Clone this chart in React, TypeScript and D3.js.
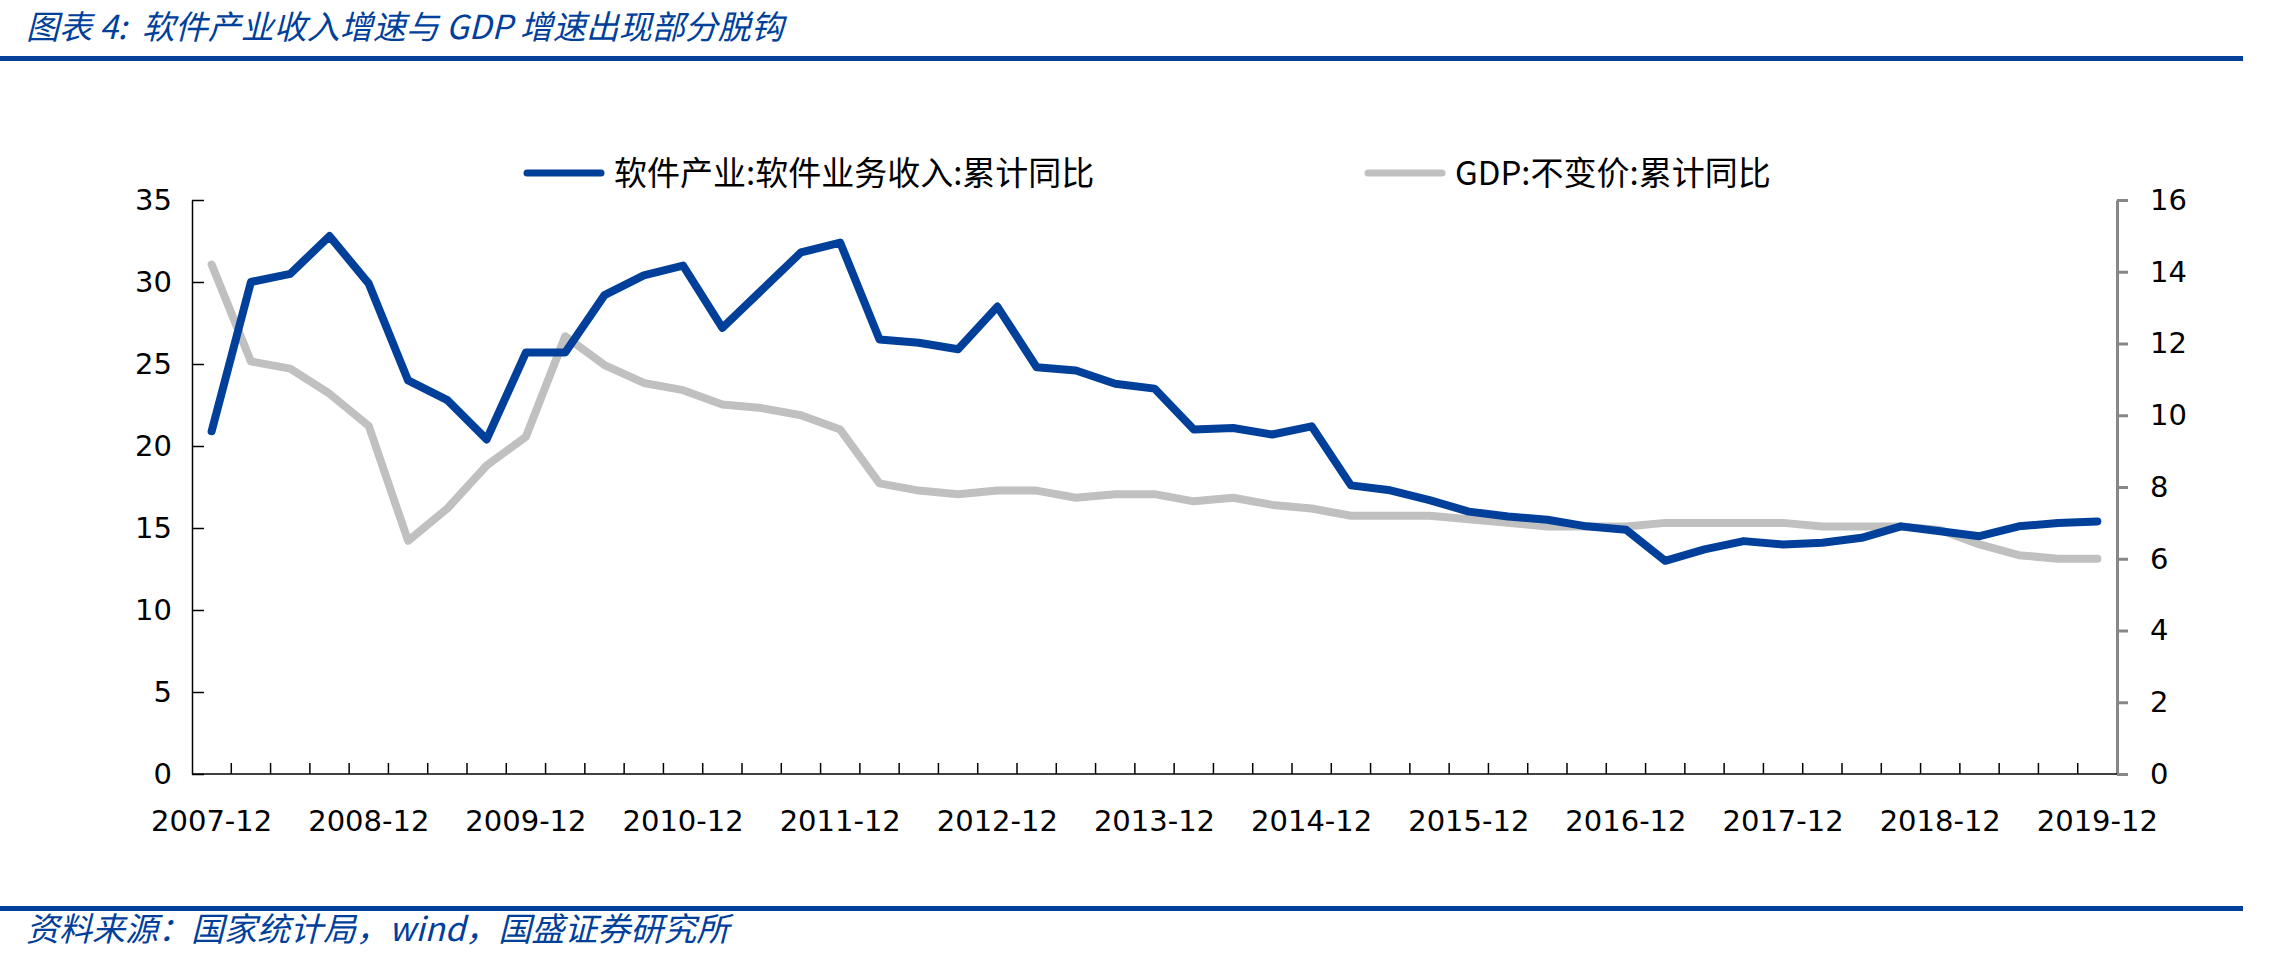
import React, { useEffect, useRef } from "react";
import * as d3 from "d3";

// quarterly, 2007-12 .. 2019-12
const categories = [
    "2007-12",
    "2008-03", "2008-06", "2008-09", "2008-12",
    "2009-03", "2009-06", "2009-09", "2009-12",
    "2010-03", "2010-06", "2010-09", "2010-12",
    "2011-03", "2011-06", "2011-09", "2011-12",
    "2012-03", "2012-06", "2012-09", "2012-12",
    "2013-03", "2013-06", "2013-09", "2013-12",
    "2014-03", "2014-06", "2014-09", "2014-12",
    "2015-03", "2015-06", "2015-09", "2015-12",
    "2016-03", "2016-06", "2016-09", "2016-12",
    "2017-03", "2017-06", "2017-09", "2017-12",
    "2018-03", "2018-06", "2018-09", "2018-12",
    "2019-03", "2019-06", "2019-09", "2019-12",
];

// 软件产业:软件业务收入:累计同比 (left axis)
const softwareRevenue = [
    20.9,
    30.0, 30.5, 32.8, 29.9,
    24.0, 22.8, 20.4, 25.7,
    25.7, 29.2, 30.4, 31.0,
    27.2, 29.5, 31.8, 32.4,
    26.5, 26.3, 25.9, 28.5,
    24.8, 24.6, 23.8, 23.5,
    21.0, 21.1, 20.7, 21.2,
    17.6, 17.3, 16.7, 16.0,
    15.7, 15.5, 15.1, 14.9,
    13.0, 13.7, 14.2, 14.0,
    14.1, 14.4, 15.1, 14.8,
    14.5, 15.1, 15.3, 15.4,
];

// GDP:不变价:累计同比 (right axis)
const gdpGrowth = [
    14.2,
    11.5, 11.3, 10.6, 9.7,
    6.5, 7.4, 8.6, 9.4,
    12.2, 11.4, 10.9, 10.7,
    10.3, 10.2, 10.0, 9.6,
    8.1, 7.9, 7.8, 7.9,
    7.9, 7.7, 7.8, 7.8,
    7.6, 7.7, 7.5, 7.4,
    7.2, 7.2, 7.2, 7.1,
    7.0, 6.9, 6.9, 6.9,
    7.0, 7.0, 7.0, 7.0,
    6.9, 6.9, 6.9, 6.8,
    6.4, 6.1, 6.0, 6.0,
];

const xTickLabels = [
    "2007-12", "2008-12", "2009-12", "2010-12", "2011-12", "2012-12", "2013-12",
    "2014-12", "2015-12", "2016-12", "2017-12", "2018-12", "2019-12",
];
const leftTicks = [0, 5, 10, 15, 20, 25, 30, 35];
const rightTicks = [0, 2, 4, 6, 8, 10, 12, 14, 16];

const seriesNames = ["软件产业:软件业务收入:累计同比", "GDP:不变价:累计同比"];
const titleText = "图表 4:  软件产业收入增速与 GDP 增速出现部分脱钩";
const sourceText = "资料来源：国家统计局，wind，国盛证券研究所";

const BLUE = "#00409b";
const GRAY = "#c0c0c0";
const AXIS_FONT = "'DejaVu Sans', sans-serif";
const CJK_FONT = "'Noto Sans CJK SC', 'Noto Sans', sans-serif";

export default function App() {
    const svgRef = useRef<SVGSVGElement>(null);

    useEffect(() => {
        if (!svgRef.current) return;
        const svg = d3.select(svgRef.current);
        svg.selectAll("*").remove();

        const W = 2294, H = 960;
        const left = 192, right = 2117, top = 200, bottom = 774;

        svg.append("rect").attr("width", W).attr("height", H).attr("fill", "#fff");

        // header / footer
        svg.append("text")
            .attr("x", 26).attr("y", 39)
            .attr("font-family", CJK_FONT).attr("font-size", 33).attr("font-style", "italic")
            .attr("fill", BLUE).style("white-space", "pre")
            .text(titleText);
        svg.append("rect").attr("x", 0).attr("y", 56).attr("width", 2243).attr("height", 5).attr("fill", BLUE);
        svg.append("rect").attr("x", 0).attr("y", 906).attr("width", 2243).attr("height", 5).attr("fill", BLUE);
        svg.append("text")
            .attr("x", 26).attr("y", 941)
            .attr("font-family", CJK_FONT).attr("font-size", 33).attr("font-style", "italic")
            .attr("fill", BLUE)
            .text(sourceText);

        const x = d3.scaleBand().domain(categories).range([left, right]).padding(0);
        const cx = (c: string) => (x(c) || 0) + x.bandwidth() / 2;
        const yL = d3.scaleLinear().domain([0, 35]).range([bottom, top]);
        const yR = d3.scaleLinear().domain([0, 16]).range([bottom, top]);

        // left axis
        const gl = svg.append("g").attr("transform", `translate(${left},0)`)
            .call(d3.axisLeft(yL).tickValues(leftTicks).tickSizeInner(-12).tickSizeOuter(0).tickPadding(20));
        gl.select(".domain").attr("stroke", "#000").attr("stroke-width", 1.5);
        gl.selectAll(".tick line").attr("stroke", "#000").attr("stroke-width", 1.5);
        gl.selectAll(".tick text").attr("font-family", AXIS_FONT).attr("font-size", 29).attr("fill", "#000");

        // right axis
        const gr = svg.append("g").attr("transform", `translate(${right},0)`)
            .call(d3.axisRight(yR).tickValues(rightTicks).tickSizeInner(11).tickSizeOuter(0).tickPadding(22));
        gr.select(".domain").attr("stroke", "#878787").attr("stroke-width", 3);
        gr.selectAll(".tick line").attr("stroke", "#878787").attr("stroke-width", 3);
        gr.selectAll(".tick text").attr("font-family", AXIS_FONT).attr("font-size", 29).attr("fill", "#000");

        // bottom axis: ticks between categories, labels every year
        const gb = svg.append("g");
        gb.append("line").attr("x1", left).attr("x2", right).attr("y1", bottom).attr("y2", bottom)
            .attr("stroke", "#000").attr("stroke-width", 1.5);
        gb.selectAll(".xt").data(categories.slice(1)).enter().append("line")
            .attr("x1", d => x(d) || 0).attr("x2", d => x(d) || 0)
            .attr("y1", bottom).attr("y2", bottom - 11)
            .attr("stroke", "#000").attr("stroke-width", 1.5);
        gb.selectAll(".xl").data(xTickLabels).enter().append("text")
            .attr("x", d => cx(d)).attr("y", 831)
            .attr("text-anchor", "middle")
            .attr("font-family", AXIS_FONT).attr("font-size", 29).attr("fill", "#000")
            .text(d => d);

        // lines
        const lineL = d3.line<number>().x((d, i) => cx(categories[i])).y(d => yL(d));
        const lineR = d3.line<number>().x((d, i) => cx(categories[i])).y(d => yR(d));
        svg.append("path").datum(gdpGrowth).attr("d", lineR)
            .attr("fill", "none").attr("stroke", GRAY).attr("stroke-width", 8)
            .attr("stroke-linejoin", "round").attr("stroke-linecap", "round");
        svg.append("path").datum(softwareRevenue).attr("d", lineL)
            .attr("fill", "none").attr("stroke", BLUE).attr("stroke-width", 8)
            .attr("stroke-linejoin", "round").attr("stroke-linecap", "round");

        // legend
        const legend = [
            { name: seriesNames[0], color: BLUE, x: 524 },
            { name: seriesNames[1], color: GRAY, x: 1365 },
        ];
        const lg = svg.append("g");
        legend.forEach(l => {
            lg.append("line").attr("x1", l.x + 3).attr("x2", l.x + 77).attr("y1", 173).attr("y2", 173)
                .attr("stroke", l.color).attr("stroke-width", 7).attr("stroke-linecap", "round");
            lg.append("text").attr("x", l.x + 90).attr("y", 185)
                .attr("font-family", CJK_FONT).attr("font-size", 33).attr("fill", "#000")
                .text(l.name);
        });
    }, []);

    return (
        <svg
            ref={svgRef}
            width={2294}
            height={960}
            style={{ position: "absolute", left: 0, top: 0, display: "block" }}
        ></svg>
    );
}
